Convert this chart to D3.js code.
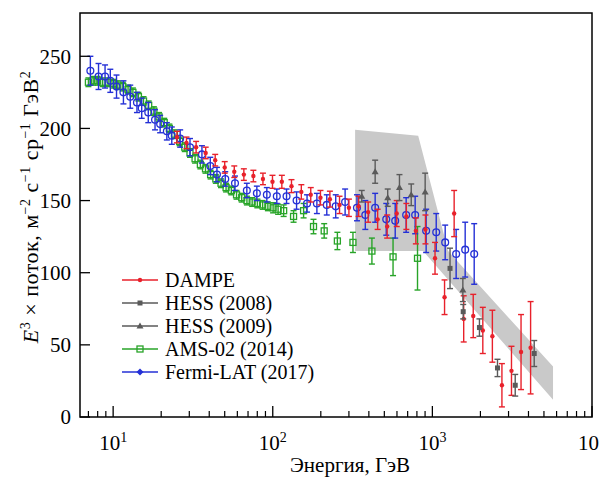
<!DOCTYPE html>
<html><head><meta charset="utf-8">
<script src="https://cdn.jsdelivr.net/npm/d3@7"></script>
<style>body{margin:0;background:#fff}svg{display:block}
text{font-family:"Liberation Serif","DejaVu Serif","Noto Serif","Times New Roman","Nimbus Roman","FreeSerif",Times,serif;}</style>
</head><body><svg id="c" width="599" height="477"></svg>
<script>
// ---------- data ----------
const dampeE = [25.1,28.8,33.1,38.0,43.6,50.0,57.4,65.9,75.6,86.8,99.6,114,131,151,173,199,228,262,300,345,396,454,521,598,687,788,905,1039,1192,1369,1571,1803,2070,2376,2727,3130,3593,4124];
const dampeV = [194,190,187,183,178,173,170,168,167,165,163,163,160,156,154,152,151,147,145,146,142,137,132,141,139,129,130,110,83,141,68,70,60,56,22,32,45,48];
const dampeErr = [4,4,4,4,4,4,4,4,4,4,4.5,4.5,4.5,5,5,5,5.5,6,6,7,7,7,8,9,9,9,10,11,12,16,16,15,16,18,15,17,26,32];

const fermiE = [7.2,8.1,8.9,9.6,10.5,11.6,12.8,14.1,15.1,16.6,18.3,19.7,21.7,23.3,26.3,30.3,36.0,40.6,44.7,50.4,58.0,68.8,79.5,91.8,106,122,141,164,189,218,248,284,337,380,438,514,585,685,780,914,1057,1203,1409,1605,1828];
const fermiV = [240,236,236,233,229,225,222,218,214,211,206,203,198,195,193,187,182,174,168,165,162,157,155,154,153,153,150,148,148,147,146,149,145,140,145,137,136,140,140,129,128,121,113,116,113];
const fermiErr = [10,9,8,8,8,8,8,7,7,7,7,6,6,6,6,6,6,6,5,5,5,5,5,5,5,5,6,6,7,7,8,9,9,10,10,11,12,12,13,15,13,12,17,19,21];

const amsE = [7.0,7.5,8.0,8.6,9.3,10.0,10.7,11.5,12.4,13.3,14.4,15.5,16.7,18.0,19.4,20.9,22.5,24.2,26.1,28.1,30.3,32.6,35.2,37.9,40.8,44.0,47.4,51.0,55.0,59.3,63.9,68.9,74.3,80.1,86.4,93.2,100.5,108,117,135,156,180,210,254,318,418,567,807];
const amsV = [232,233,233,232,232,231,230,229,227,225,222,219,216,212,208,204,200,196,191,187,183,179,175,172,168,165,162,159,157,154,152,150,149,148,147,146,145,144,143,139,143,132,129,122,121,115,111,110];
const amsErr = [3,3,3,3,3,3,3,3,3,3,3,3,3,3,3,3,3,3,3,3,3,3,3,3,3,3,3,3,3,3,3,3,3,3,3,3,3.5,3.5,4,4,5,5,5,6,7,9,13,22];

const hess09E = [361,438,525,622,737,901,1552];
const hess09V = [153,170,152,159,154,156,88];
const hess09Err = [4,8,6,9,7.5,13,8];

const hess08E = [1290,1560,1972,2558,3304,4345];
const hess08V = [103,73,62,34,22,44];
const hess08Err = [14,5,6,6,7.5,9];

// HESS systematic band outline (energy, E^3 flux)
const bandE = [328,815,1256,5700,5700,875,328];
const bandV = [199,195,115,35,12,115,115];

const xTickVals = [10,100,1000,10000];
const xTickExp = ["1","2","3","4"];
const yTickVals = [0,50,100,150,200,250];

const legendNames = ["DAMPE","HESS (2008)","HESS (2009)","AMS-02 (2014)","Fermi-LAT (2017)"];

// ---------- chart ----------
const RED="#e8212b", GRAY="#5a5a5a", GREEN="#28a428", BLUE="#2430d6";
const svg = d3.select("#c");
const L=80, R=592, T=13, B=417;
const x = d3.scaleLog().domain([6.2,10000]).range([L,R]);
const y = d3.scaleLinear().domain([0,280]).range([B,T]);

svg.append("path")
  .datum(bandE.map((e,i)=>[e,bandV[i]]))
  .attr("d", d3.line().x(d=>x(d[0])).y(d=>y(d[1])).curve(d3.curveLinearClosed))
  .attr("fill","#c9c9c9").attr("stroke","none");

function series(E,V,Err,color,marker){
  const g = svg.append("g");
  const data = E.map((e,i)=>({e,v:V[i],s:Err[i]}));
  const pts = g.selectAll("g").data(data).join("g");
  pts.append("line").attr("x1",d=>x(d.e)).attr("x2",d=>x(d.e))
    .attr("y1",d=>y(d.v-d.s)).attr("y2",d=>y(d.v+d.s))
    .attr("stroke",color).attr("stroke-width",1.4);
  [-1,1].forEach(sg=>{
    pts.append("line").attr("x1",d=>x(d.e)-3).attr("x2",d=>x(d.e)+3)
      .attr("y1",d=>y(d.v+sg*d.s)).attr("y2",d=>y(d.v+sg*d.s))
      .attr("stroke",color).attr("stroke-width",1.4);
  });
  pts.each(function(d){ drawMarker(d3.select(this), x(d.e), y(d.v), color, marker); });
}
function drawMarker(sel,cx,cy,color,marker){
  if(marker==="dot") sel.append("circle").attr("cx",cx).attr("cy",cy).attr("r",2.2).attr("fill",color);
  else if(marker==="ocircle") sel.append("circle").attr("cx",cx).attr("cy",cy).attr("r",3.4).attr("fill","none").attr("stroke",color).attr("stroke-width",1.3);
  else if(marker==="osquare") sel.append("rect").attr("x",cx-3).attr("y",cy-3).attr("width",6).attr("height",6).attr("fill","none").attr("stroke",color).attr("stroke-width",1.3);
  else if(marker==="square") sel.append("rect").attr("x",cx-2.5).attr("y",cy-2.5).attr("width",5).attr("height",5).attr("fill",color);
  else if(marker==="tri") sel.append("path").attr("d",`M${cx},${cy-3.5}L${cx+3.5},${cy+2.5}L${cx-3.5},${cy+2.5}Z`).attr("fill",color);
  else if(marker==="diamond") sel.append("path").attr("d",`M${cx},${cy-3.5}L${cx+3.5},${cy}L${cx},${cy+3.5}L${cx-3.5},${cy}Z`).attr("fill",color);
}

series(amsE,amsV,amsErr,GREEN,"osquare");
series(fermiE,fermiV,fermiErr,BLUE,"ocircle");
series(dampeE,dampeV,dampeErr,RED,"dot");
series(hess09E,hess09V,hess09Err,GRAY,"tri");
series(hess08E,hess08V,hess08Err,GRAY,"square");

svg.append("rect").attr("x",L).attr("y",T).attr("width",R-L).attr("height",B-T)
  .attr("fill","none").attr("stroke","#000").attr("stroke-width",1.5);

yTickVals.forEach(v=>{
  svg.append("line").attr("x1",L).attr("x2",L+10).attr("y1",y(v)).attr("y2",y(v)).attr("stroke","#000").attr("stroke-width",1.3);
  svg.append("text").attr("x",L-9).attr("y",y(v)).attr("dy","0.35em").attr("text-anchor","end")
    .attr("font-size",21).text(v);
});
const minor=[];
for(let k=0;k<4;k++) for(let m=2;m<=9;m++){ const v=m*Math.pow(10,k); if(v>=6.2&&v<10000) minor.push(v); }
minor.forEach(v=>svg.append("line").attr("x1",x(v)).attr("x2",x(v)).attr("y1",B).attr("y2",B-6).attr("stroke","#000").attr("stroke-width",1.2));
xTickVals.forEach((v,i)=>{
  svg.append("line").attr("x1",x(v)).attr("x2",x(v)).attr("y1",B).attr("y2",B-11).attr("stroke","#000").attr("stroke-width",1.3);
  const t = svg.append("text").attr("x",x(v)).attr("y",450).attr("text-anchor","middle").attr("font-size",21);
  t.append("tspan").text("10");
  t.append("tspan").attr("dy",-8).attr("font-size",14).text(xTickExp[i]);
});

svg.append("text").attr("x",350).attr("y",472).attr("text-anchor","middle")
  .attr("font-size",21).text("Энергия, ГэВ");

const yt = svg.append("text").attr("transform","translate(38,207) rotate(-90)")
  .attr("text-anchor","middle").attr("font-size",22).attr("letter-spacing",0.5);
const parts = [["E","it"],["3","sup"],[" × поток, м","n"],["−2","sup"],[" с","n"],["−1","sup"],[" ср","n"],["−1","sup"],[" ГэВ","n"],["2","sup"]];
let up=false;
parts.forEach(([s,k])=>{
  const ts = yt.append("tspan").text(s);
  if(k==="it") ts.attr("font-style","italic");
  if(k==="sup"){ ts.attr("font-size",14).attr("dy",-8); up=true; }
  else if(up){ ts.attr("dy",8); up=false; }
});

const legColors=[RED,GRAY,GRAY,GREEN,BLUE];
const legMarks=["dot","square","tri","osquare","diamond"];
const legY=[280,303,326,349,372];
legendNames.forEach((n,i)=>{
  const g=svg.append("g");
  g.append("line").attr("x1",122).attr("x2",158).attr("y1",legY[i]).attr("y2",legY[i]).attr("stroke",legColors[i]).attr("stroke-width",1.6);
  drawMarker(g,140,legY[i],legColors[i],legMarks[i]);
  g.append("text").attr("x",165).attr("y",legY[i]).attr("dy","0.33em").attr("font-size",20).text(n);
});
</script></body></html>
